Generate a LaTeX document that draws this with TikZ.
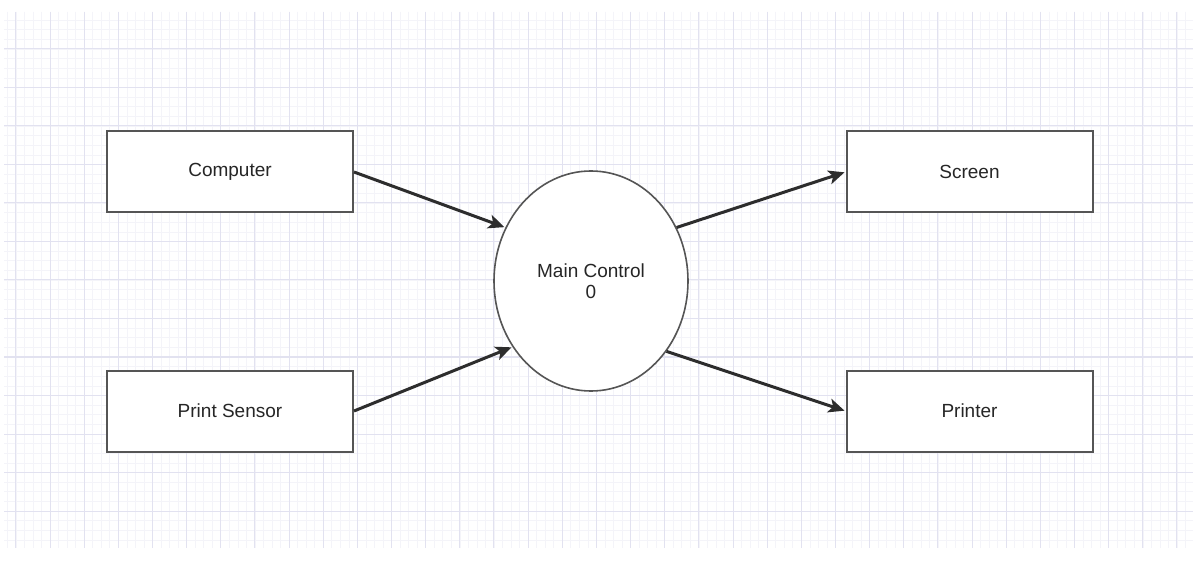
\documentclass[tikz,border=0pt]{standalone}
\usepackage{fontspec}
\setmainfont{Liberation Sans}
\usetikzlibrary{shapes.geometric,arrows.meta}
\definecolor{gridmaj}{RGB}{226,226,240}
\definecolor{gridmin}{RGB}{244,244,249}
\definecolor{boxline}{RGB}{85,85,85}
\definecolor{arrline}{RGB}{45,45,45}
\tikzset{
  box/.style={draw=boxline, line width=2pt, fill=white, minimum width=246pt, minimum height=81pt, inner sep=0pt, font=\fontsize{19}{21}\selectfont, text=black!85},
  proc/.style={draw=boxline, line width=1.6pt, fill=white, ellipse, minimum width=194pt, minimum height=220pt, inner sep=0pt, align=center, font=\fontsize{19}{21}\selectfont, text=black!85},
  flow/.style={draw=arrline, line width=3pt, -{Stealth[length=16pt,width=14pt,inset=4pt]}, shorten >=1pt}
}
\begin{document}
\begin{tikzpicture}[x=1pt,y=-1pt]
\useasboundingbox (0,0) rectangle (1197,561);
\fill[white] (0,0) rectangle (1197,561);
% grid
\begin{scope}
\clip (4,12) rectangle (1193,548);
\foreach \i in {-8,...,140} {
  \draw[gridmin, line width=0.6pt] ({50+8.5375*\i},12) -- ({50+8.5375*\i},548);
}
\foreach \j in {-5,...,56} {
  \draw[gridmin, line width=0.6pt] (4,{49+9.625*\j}) -- (1193,{49+9.625*\j});
}
\foreach \i in {-2,...,35} {
  \draw[gridmaj, line width=1pt] ({50+34.15*\i},12) -- ({50+34.15*\i},548);
}
\foreach \j in {-1,...,14} {
  \draw[gridmaj, line width=1pt] (4,{49+38.5*\j}) -- (1193,{49+38.5*\j});
}
\end{scope}
% nodes
\node[box] (computer) at (230,172) {Computer};
\node[box] (sensor) at (230,411) {Print Sensor};
\node[box] (screen) at (969.5,172) {Screen};
\node[box] (printer) at (969.5,411) {Printer};
\node[proc] (main) at (591,281) {Main Control\\0};
% connectors
\draw[flow] (computer.east) -- (main.148);
\draw[flow] (sensor.east) -- (main.-140);
\draw[flow] (main.32) -- (screen.west);
\draw[flow] (main.-43) -- (printer.west);
\end{tikzpicture}
\end{document}
